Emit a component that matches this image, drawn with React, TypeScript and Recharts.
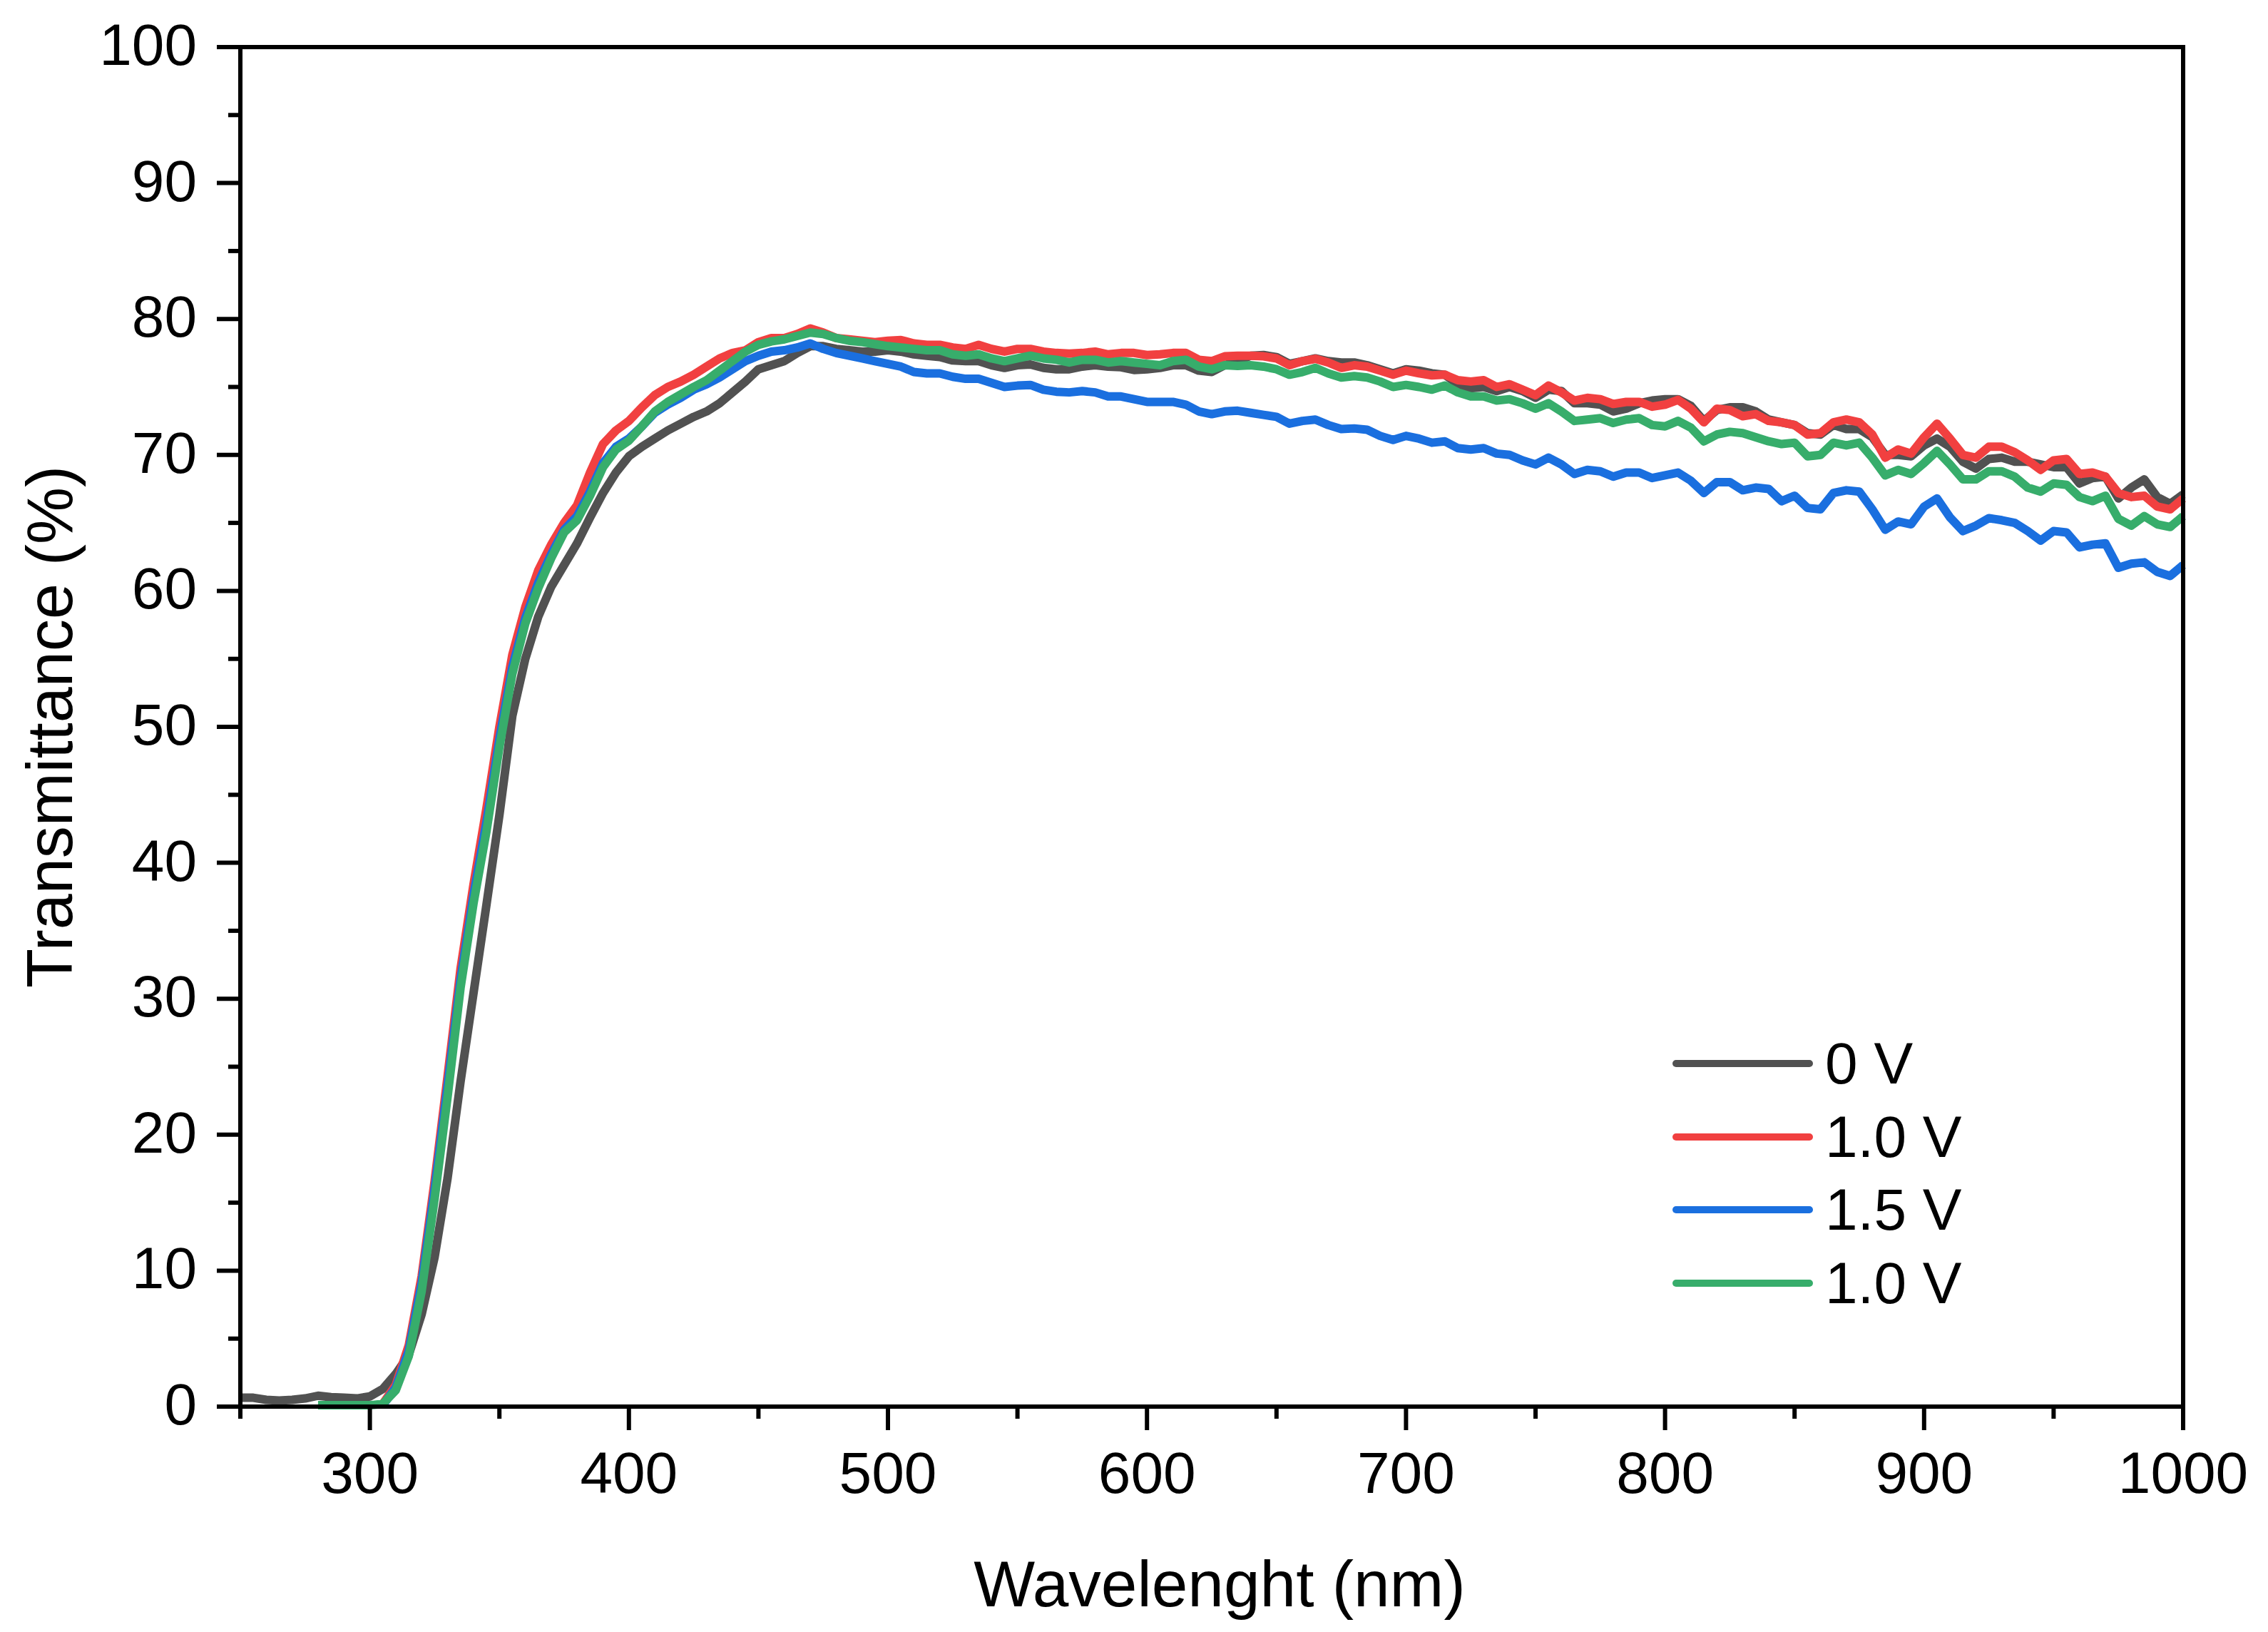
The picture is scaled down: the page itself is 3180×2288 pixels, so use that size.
import { LineChart, Line, XAxis, YAxis, Legend, ReferenceLine } from "recharts";

// ── Data ─────────────────────────────────────────────────────────────────────

const WAVELENGTHS = [
    250, 255, 260, 265, 270, 275, 280, 285, 290, 295,
    300, 305, 310, 315, 320, 325, 330, 335, 340, 345,
    350, 355, 360, 365, 370, 375, 380, 385, 390, 395,
    400, 405, 410, 415, 420, 425, 430, 435, 440, 445,
    450, 455, 460, 465, 470, 475, 480, 485, 490, 495,
    500, 505, 510, 515, 520, 525, 530, 535, 540, 545,
    550, 555, 560, 565, 570, 575, 580, 585, 590, 595,
    600, 605, 610, 615, 620, 625, 630, 635, 640, 645,
    650, 655, 660, 665, 670, 675, 680, 685, 690, 695,
    700, 705, 710, 715, 720, 725, 730, 735, 740, 745,
    750, 755, 760, 765, 770, 775, 780, 785, 790, 795,
    800, 805, 810, 815, 820, 825, 830, 835, 840, 845,
    850, 855, 860, 865, 870, 875, 880, 885, 890, 895,
    900, 905, 910, 915, 920, 925, 930, 935, 940, 945,
    950, 955, 960, 965, 970, 975, 980, 985, 990, 995,
    1000,
];

const T_0V = [
    0.65, 0.65, 0.5, 0.45, 0.5, 0.6, 0.8, 0.7, 0.65, 0.6,
    0.75, 1.3, 2.4, 3.8, 6.8, 11.0, 16.8, 23.9, 30.4, 36.9,
    43.5, 50.8, 55.0, 58.1, 60.3, 61.9, 63.5, 65.4, 67.2, 68.7,
    69.9, 70.6, 71.2, 71.8, 72.3, 72.8, 73.2, 73.8, 74.6, 75.4,
    76.3, 76.6, 76.9, 77.5, 78.0, 78.0, 77.8, 77.7, 77.6, 77.6,
    77.7, 77.6, 77.4, 77.3, 77.2, 76.95, 76.9, 76.9, 76.6, 76.4,
    76.6, 76.65, 76.4, 76.3, 76.3, 76.5, 76.6, 76.5, 76.45, 76.25,
    76.3, 76.4, 76.6, 76.6, 76.2, 76.1, 76.6, 76.9, 77.3, 77.35,
    77.2, 76.7, 76.9, 77.1, 76.9, 76.8, 76.8, 76.6, 76.3, 76.0,
    76.3, 76.2, 76.0, 75.9, 75.2, 74.9, 75.0, 74.7, 75.0, 74.7,
    74.2, 74.8, 74.7, 73.8, 73.8, 73.7, 73.2, 73.4, 73.8, 74.0,
    74.1, 74.1, 73.6, 72.5, 73.3, 73.5, 73.5, 73.2, 72.6, 72.4,
    72.2, 71.6, 71.5, 72.2, 71.9, 71.9, 71.3, 70.0, 70.0, 69.9,
    70.7, 71.2, 70.6, 69.5, 69.0, 69.7, 69.8, 69.5, 69.5, 69.3,
    69.1, 69.1, 67.9, 68.3, 68.4, 66.8, 67.6, 68.2, 66.9, 66.4,
    67.1,
];

const T_1V = [
    null, null, null, null, null, null, null, null, null, null,
    null, 0.2, 1.6, 4.5, 9.6, 16.6, 24.3, 32.2, 38.4, 44.0,
    50.0, 55.3, 58.8, 61.5, 63.4, 65.0, 66.3, 68.7, 70.8, 71.8,
    72.5, 73.5, 74.4, 75.0, 75.4, 75.9, 76.5, 77.1, 77.5, 77.7,
    78.3, 78.6, 78.6, 78.9, 79.3, 79.0, 78.6, 78.5, 78.4, 78.3,
    78.4, 78.45, 78.2, 78.1, 78.1, 77.9, 77.8, 78.1, 77.8, 77.6,
    77.8, 77.8, 77.6, 77.5, 77.45, 77.5, 77.6, 77.4, 77.5, 77.5,
    77.35, 77.4, 77.5, 77.5, 77.0, 76.9, 77.25, 77.3, 77.3, 77.25,
    77.1, 76.6, 76.9, 77.07, 76.8, 76.4, 76.6, 76.5, 76.2, 75.9,
    76.2, 76.0, 75.85, 75.9, 75.5, 75.4, 75.5, 75.0, 75.2, 74.8,
    74.4, 75.1, 74.6, 74.0, 74.2, 74.1, 73.75, 73.9, 73.9, 73.55,
    73.7, 74.05, 73.4, 72.4, 73.4, 73.3, 72.85, 73.0, 72.5, 72.4,
    72.2, 71.5, 71.6, 72.4, 72.6, 72.4, 71.5, 69.8, 70.4, 70.1,
    71.3, 72.3, 71.2, 70.0, 69.8, 70.6, 70.6, 70.2, 69.6, 68.9,
    69.6, 69.7, 68.6, 68.7, 68.4, 67.2, 66.9, 67.0, 66.2, 66.0,
    66.8,
];

const T_15V = [
    null, null, null, null, null, null, null, null, null, null,
    null, 0.1, 1.4, 4.1, 9.1, 16.0, 23.6, 31.4, 37.6, 43.0,
    49.1, 54.4, 58.0, 60.6, 62.7, 64.5, 65.5, 67.3, 69.4, 70.6,
    71.2, 72.1, 73.1, 73.7, 74.2, 74.8, 75.2, 75.7, 76.3, 76.9,
    77.3, 77.6, 77.7, 77.9, 78.2, 77.8, 77.5, 77.3, 77.1, 76.9,
    76.7, 76.5, 76.1, 76.0, 76.0, 75.75, 75.6, 75.6, 75.3, 75.0,
    75.1, 75.15, 74.8, 74.65, 74.6, 74.7, 74.6, 74.3, 74.3, 74.1,
    73.9, 73.9, 73.9, 73.7, 73.2, 73.0, 73.2, 73.25, 73.1, 72.95,
    72.8, 72.3, 72.5, 72.6, 72.2, 71.9, 71.95, 71.85, 71.4, 71.1,
    71.4, 71.2, 70.9, 71.0, 70.5, 70.4, 70.5, 70.1, 70.0, 69.6,
    69.3, 69.8, 69.3, 68.6, 68.9, 68.8, 68.4, 68.7, 68.7, 68.3,
    68.5, 68.7, 68.1, 67.2, 68.0, 68.0, 67.4, 67.6, 67.5, 66.6,
    67.0, 66.1, 66.0, 67.2, 67.4, 67.3, 66.0, 64.5, 65.1, 64.9,
    66.2, 66.8, 65.4, 64.4, 64.8, 65.35, 65.2, 65.0, 64.4, 63.7,
    64.4, 64.3, 63.2, 63.4, 63.5, 61.7, 62.0, 62.1, 61.4, 61.1,
    61.9,
];

const T_1V_B = [
    null, null, null, null, null, null, 0.1, 0.1, 0.1, 0.1,
    0.1, 0.2, 1.2, 3.7, 8.5, 15.3, 22.8, 30.8, 37.0, 42.3,
    48.5, 53.9, 57.6, 60.2, 62.4, 64.3, 65.2, 67.0, 69.1, 70.4,
    71.05, 72.1, 73.2, 73.9, 74.45, 75.0, 75.5, 76.2, 76.9, 77.6,
    78.1, 78.35, 78.5, 78.75, 79.0, 78.9, 78.6, 78.4, 78.3, 78.15,
    78.0, 77.9, 77.8, 77.7, 77.7, 77.4, 77.3, 77.4, 77.1, 76.9,
    77.1, 77.3, 77.1, 77.0, 76.8, 77.0, 77.0, 76.8, 76.9, 76.8,
    76.7, 76.6, 76.9, 77.0, 76.5, 76.3, 76.6, 76.55, 76.6, 76.5,
    76.3, 75.9, 76.1, 76.4, 76.0, 75.7, 75.8, 75.7, 75.4, 75.0,
    75.15, 75.0, 74.8, 75.1, 74.6, 74.3, 74.3, 74.0, 74.1, 73.8,
    73.4, 73.8, 73.2, 72.5, 72.6, 72.7, 72.35, 72.6, 72.7, 72.2,
    72.1, 72.5, 72.0, 71.0, 71.5, 71.7, 71.6, 71.3, 71.0, 70.8,
    70.9, 69.9, 70.0, 70.9, 70.7, 70.9, 69.8, 68.5, 68.9, 68.6,
    69.4, 70.3, 69.3, 68.2, 68.2, 68.8, 68.8, 68.4, 67.6, 67.3,
    67.9, 67.8, 66.9, 66.6, 67.0, 65.3, 64.8, 65.5, 64.9, 64.7,
    65.5,
];

const X_TICKS = [250, 300, 350, 400, 450, 500, 550, 600, 650, 700, 750, 800, 850, 900, 950, 1000];
const Y_TICKS = [0, 5, 10, 15, 20, 25, 30, 35, 40, 45, 50, 55, 60, 65, 70, 75, 80, 85, 90, 95, 100];

const SERIES = [
    { key: "v0", name: "0 V", color: "#515151" },
    { key: "v1", name: "1.0 V", color: "#F14040" },
    { key: "v15", name: "1.5 V", color: "#1A6FDF" },
    { key: "v1b", name: "1.0 V", color: "#37AD6B" },
];

const rows = WAVELENGTHS.map((wl, i) => ({
    wl,
    v0: T_0V[i],
    v1: T_1V[i],
    v15: T_15V[i],
    v1b: T_1V_B[i],
}));

// ── Styling constants ───────────────────────────────────────────────────────

const FONT = '"Liberation Sans", Arial, Helvetica, sans-serif';
const TICK = 33;
const MINOR = 17;
const AXIS_W = 6;

// ── Ticks (major with label, minor without) ────────────────────────────────

function XTick(props: any) {
    const { x, y, payload } = props;
    const major = payload.value % 100 === 0;
    const y0 = y - TICK;
    return (
        <g>
            <line x1={x} y1={y0} x2={x} y2={y0 + (major ? TICK : MINOR)} stroke="#000" strokeWidth={AXIS_W} />
            {major && (
                <text x={x} y={y0 + 121} textAnchor="middle" fontSize={82} fontFamily={FONT} fill="#000">
                    {payload.value}
                </text>
            )}
        </g>
    );
}

function YTick(props: any) {
    const { x, y, payload } = props;
    const major = payload.value % 10 === 0;
    const x0 = x + TICK;
    return (
        <g>
            <line x1={x0} y1={y} x2={x0 - (major ? TICK : MINOR)} y2={y} stroke="#000" strokeWidth={AXIS_W} />
            {major && (
                <text x={x0 - 61} y={y + 25} textAnchor="end" fontSize={82} fontFamily={FONT} fill="#000">
                    {payload.value}
                </text>
            )}
        </g>
    );
}

function XTitle({ viewBox }: any) {
    return (
        <text
            x={viewBox.x + viewBox.width / 2 + 11}
            y={viewBox.y + 280}
            textAnchor="middle"
            fontSize={91}
            fontFamily={FONT}
            fill="#000"
        >
            Wavelenght (nm)
        </text>
    );
}

function YTitle({ viewBox }: any) {
    const cx = 101;
    const cy = viewBox.y + viewBox.height / 2;
    return (
        <text
            x={cx}
            y={cy}
            transform={`rotate(-90, ${cx}, ${cy})`}
            textAnchor="middle"
            fontSize={90}
            fontFamily={FONT}
            fill="#000"
        >
            Transmittance (%)
        </text>
    );
}

// legend keeps the plotting order (Recharts would sort by name otherwise)
function LegendBox({ payload }: any) {
    const items = SERIES.map((s) => (payload || []).find((p: any) => p.dataKey === s.key)).filter(Boolean);
    return (
        <div style={{ fontFamily: FONT, fontSize: 82, color: "#000" }}>
            {items.map((p: any, i: number) => (
                <div key={i} style={{ display: "flex", alignItems: "center", height: 102.5, lineHeight: "102px" }}>
                    <svg width={210} height={20} style={{ display: "block" }}>
                        <line x1={10} y1={10} x2={197} y2={10} stroke={p.color} strokeWidth={10} strokeLinecap="round" />
                    </svg>
                    <span style={{ marginLeft: 9 }}>{p.value}</span>
                </div>
            ))}
        </div>
    );
}

// ── Main export ─────────────────────────────────────────────────────────────

export default function App() {
    return (
        <div style={{ position: "absolute", left: 0, top: 0, width: 3180, height: 2288, background: "#fff" }}>
            <LineChart
                width={3180}
                height={2288}
                data={rows}
                margin={{ top: 66, right: 119, bottom: 0, left: 0 }}
            >
                {SERIES.map((s) => (
                    <Line
                        key={s.key}
                        type="linear"
                        dataKey={s.key}
                        name={s.name}
                        stroke={s.color}
                        strokeWidth={12}
                        strokeLinejoin="round"
                        dot={false}
                        activeDot={false}
                        isAnimationActive={false}
                    />
                ))}
                <ReferenceLine y={100} stroke="#000" strokeWidth={AXIS_W} strokeLinecap="square" />
                <ReferenceLine x={1000} stroke="#000" strokeWidth={AXIS_W} strokeLinecap="square" />
                <XAxis
                    dataKey="wl"
                    type="number"
                    domain={[250, 1000]}
                    ticks={X_TICKS}
                    interval={0}
                    height={316}
                    tickSize={TICK}
                    tickMargin={0}
                    tickLine={false}
                    tick={<XTick />}
                    axisLine={{ stroke: "#000", strokeWidth: AXIS_W }}
                    label={<XTitle />}
                />
                <YAxis
                    type="number"
                    domain={[0, 100]}
                    ticks={Y_TICKS}
                    interval={0}
                    width={337}
                    tickSize={TICK}
                    tickMargin={0}
                    tickLine={false}
                    tick={<YTick />}
                    axisLine={{ stroke: "#000", strokeWidth: AXIS_W }}
                    label={<YTitle />}
                />
                <Legend
                    layout="vertical"
                    align="center"
                    verticalAlign="middle"
                    content={<LegendBox />}
                    wrapperStyle={{ left: 2340, top: 1440, width: 600 }}
                />
            </LineChart>
        </div>
    );
}
